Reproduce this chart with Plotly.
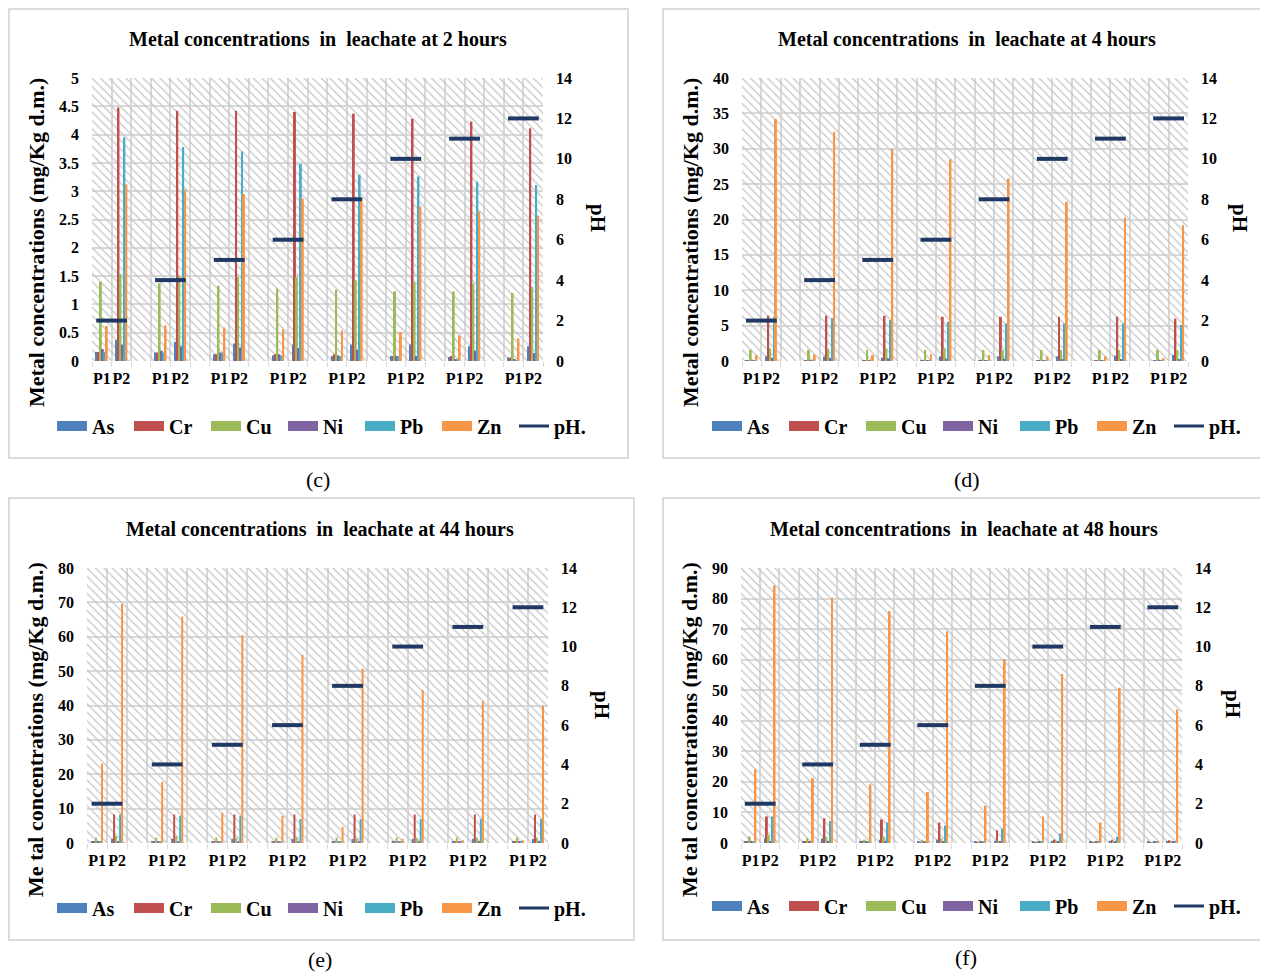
import plotly.graph_objects as go

# page body has an 8px margin: figure is drawn 8px in, so size it to fit the window
PAGE_W, PAGE_H = 1268, 978
OFF = 8
W, H = PAGE_W - OFF, PAGE_H - OFF

metals = ["As", "Cr", "Cu", "Ni", "Pb", "Zn"]
metal_colors = ["#4F81BD", "#C0504D", "#9BBB59", "#8064A2", "#4BACC6", "#F79646"]
ph_color = "#1F3864"
position_labels = ["P1", "P2"]
ph_values = [2, 4, 5, 6, 8, 10, 11, 12]

# ---- 2 hours ----
h2_As_P1 = [0.16, 0.15, 0.12, 0.10, 0.09, 0.09, 0.07, 0.06]
h2_As_P2 = [0.37, 0.34, 0.31, 0.29, 0.29, 0.29, 0.26, 0.26]
h2_Cr_P1 = [0.16, 0.15, 0.12, 0.12, 0.12, 0.09, 0.09, 0.06]
h2_Cr_P2 = [4.48, 4.42, 4.42, 4.40, 4.37, 4.28, 4.23, 4.11]
h2_Cu_P1 = [1.40, 1.37, 1.33, 1.28, 1.26, 1.23, 1.23, 1.20]
h2_Cu_P2 = [1.54, 1.50, 1.48, 1.48, 1.43, 1.39, 1.37, 1.31]
h2_Ni_P1 = [0.21, 0.18, 0.15, 0.12, 0.10, 0.09, 0.03, 0.02]
h2_Ni_P2 = [0.29, 0.26, 0.24, 0.23, 0.20, 0.09, 0.18, 0.14]
h2_Pb_P1 = [0.16, 0.15, 0.15, 0.10, 0.09, 0.09, 0.02, 0.01]
h2_Pb_P2 = [3.95, 3.78, 3.70, 3.48, 3.29, 3.26, 3.17, 3.11]
h2_Zn_P1 = [0.62, 0.63, 0.59, 0.56, 0.54, 0.51, 0.45, 0.40]
h2_Zn_P2 = [3.12, 3.03, 2.95, 2.87, 2.82, 2.73, 2.64, 2.57]

# ---- 4 hours ----
h4_As_P1 = [0.12, 0.10, 0.10, 0.10, 0.10, 0.10, 0.10, 0.10]
h4_As_P2 = [0.66, 0.62, 0.47, 0.66, 0.66, 0.66, 0.75, 0.85]
h4_Cr_P1 = [0.10, 0.10, 0.10, 0.10, 0.10, 0.10, 0.10, 0.10]
h4_Cr_P2 = [6.40, 6.40, 6.40, 6.25, 6.25, 6.25, 6.25, 6.00]
h4_Cu_P1 = [1.56, 1.56, 1.56, 1.56, 1.56, 1.56, 1.56, 1.56]
h4_Cu_P2 = [1.80, 1.75, 1.75, 1.75, 1.56, 1.56, 1.56, 1.56]
h4_Ni_P1 = [0.10, 0.10, 0.10, 0.10, 0.10, 0.10, 0.10, 0.10]
h4_Ni_P2 = [0.47, 0.45, 0.40, 0.30, 0.30, 0.25, 0.25, 0.20]
h4_Pb_P1 = [0.10, 0.10, 0.10, 0.10, 0.10, 0.10, 0.10, 0.10]
h4_Pb_P2 = [6.25, 6.06, 5.78, 5.55, 5.30, 5.30, 5.30, 5.10]
h4_Zn_P1 = [0.85, 0.90, 0.85, 0.95, 0.85, 0.66, 0.66, 0.38]
h4_Zn_P2 = [34.2, 32.4, 30.0, 28.5, 25.8, 22.5, 20.3, 19.2]

# ---- 44 hours ----
h44_As_P1 = [0.3, 0.3, 0.3, 0.3, 0.3, 0.3, 0.3, 0.3]
h44_As_P2 = [1.2, 1.2, 1.2, 1.2, 1.2, 1.2, 1.2, 1.2]
h44_Cr_P1 = [0.3, 0.3, 0.3, 0.3, 0.3, 0.3, 0.3, 0.3]
h44_Cr_P2 = [8.3, 8.3, 8.3, 8.3, 8.3, 8.3, 8.3, 8.3]
h44_Cu_P1 = [1.6, 1.6, 1.6, 1.6, 1.6, 1.6, 1.6, 1.6]
h44_Cu_P2 = [2.0, 2.0, 1.6, 1.6, 1.4, 1.4, 1.6, 1.6]
h44_Ni_P1 = [0.3, 0.3, 0.3, 0.3, 0.3, 0.3, 0.3, 0.3]
h44_Ni_P2 = [0.5, 0.5, 0.5, 0.5, 0.5, 0.5, 0.5, 0.5]
h44_Pb_P1 = [0.3, 0.3, 0.3, 0.3, 0.3, 0.3, 0.3, 0.3]
h44_Pb_P2 = [8.3, 7.9, 7.9, 7.0, 7.0, 7.0, 7.0, 7.0]
h44_Zn_P1 = [23.1, 17.8, 8.7, 7.9, 4.7, 1.2, 0.8, 0.8]
h44_Zn_P2 = [69.5, 65.9, 60.5, 54.7, 50.7, 44.5, 41.3, 40.0]

# ---- 48 hours ----
h48_As_P1 = [0.4, 0.4, 0.4, 0.4, 0.4, 0.4, 0.4, 0.4]
h48_As_P2 = [1.5, 1.5, 1.1, 1.1, 0.7, 0.7, 0.7, 0.4]
h48_Cr_P1 = [0.4, 0.4, 0.4, 0.3, 0.3, 0.3, 0.3, 0.2]
h48_Cr_P2 = [8.7, 8.1, 7.7, 6.7, 4.2, 1.1, 1.1, 0.9]
h48_Cu_P1 = [2.1, 1.5, 1.1, 1.1, 0.4, 0.4, 0.5, 0.3]
h48_Cu_P2 = [2.6, 2.1, 2.1, 1.5, 0.7, 0.7, 0.6, 0.4]
h48_Ni_P1 = [0.4, 0.4, 0.4, 0.4, 0.4, 0.4, 0.4, 0.4]
h48_Ni_P2 = [0.5, 0.5, 0.5, 0.5, 0.5, 0.5, 0.5, 0.4]
h48_Pb_P1 = [0.4, 0.4, 0.4, 0.4, 0.4, 0.4, 0.4, 0.4]
h48_Pb_P2 = [8.7, 7.2, 6.7, 5.7, 4.7, 3.1, 2.1, 0.4]
h48_Zn_P1 = [24.2, 21.2, 19.2, 16.7, 12.2, 8.7, 6.7, 0.4]
h48_Zn_P2 = [84.3, 80.3, 75.9, 69.3, 60.2, 55.3, 50.8, 43.7]

panel_titles = ["Metal concentrations  in  leachate at 2 hours",
                "Metal concentrations  in  leachate at 4 hours",
                "Metal concentrations  in  leachate at 44 hours",
                "Metal concentrations  in  leachate at 48 hours"]
panel_captions = ["(c)", "(d)", "(e)", "(f)"]
left_titles = ["Metal concentrations (mg/Kg d.m.)", "Metal concentrations (mg/Kg d.m.)",
               "Me tal concentrations (mg/Kg d.m.)", "Me tal concentrations (mg/Kg d.m.)"]
left_max = [5, 40, 80, 90]
left_step = [0.5, 5, 10, 10]
ph_max = 14
ph_step = 2

panel_data = [
    {"As": (h2_As_P1, h2_As_P2), "Cr": (h2_Cr_P1, h2_Cr_P2), "Cu": (h2_Cu_P1, h2_Cu_P2),
     "Ni": (h2_Ni_P1, h2_Ni_P2), "Pb": (h2_Pb_P1, h2_Pb_P2), "Zn": (h2_Zn_P1, h2_Zn_P2)},
    {"As": (h4_As_P1, h4_As_P2), "Cr": (h4_Cr_P1, h4_Cr_P2), "Cu": (h4_Cu_P1, h4_Cu_P2),
     "Ni": (h4_Ni_P1, h4_Ni_P2), "Pb": (h4_Pb_P1, h4_Pb_P2), "Zn": (h4_Zn_P1, h4_Zn_P2)},
    {"As": (h44_As_P1, h44_As_P2), "Cr": (h44_Cr_P1, h44_Cr_P2), "Cu": (h44_Cu_P1, h44_Cu_P2),
     "Ni": (h44_Ni_P1, h44_Ni_P2), "Pb": (h44_Pb_P1, h44_Pb_P2), "Zn": (h44_Zn_P1, h44_Zn_P2)},
    {"As": (h48_As_P1, h48_As_P2), "Cr": (h48_Cr_P1, h48_Cr_P2), "Cu": (h48_Cu_P1, h48_Cu_P2),
     "Ni": (h48_Ni_P1, h48_Ni_P2), "Pb": (h48_Pb_P1, h48_Pb_P2), "Zn": (h48_Zn_P1, h48_Zn_P2)},
]

# ---- layout geometry (page pixels) ----
plot_boxes = [(92, 543, 78, 361), (742, 1188, 78, 361), (87, 548, 568, 843), (741, 1182, 568, 843)]
borders = [(9, 9, 628, 458), (663, 9, 1262, 458), (9, 498, 634, 940), (663, 498, 1262, 940)]
title_pos = [(318, 39), (967, 39), (320, 529), (964, 529)]
caption_pos = [(318, 479), (967, 479), (320, 959), (966, 957)]
ltitle_pos = [(36, 243), (690, 243), (35, 730), (689, 730)]
rtitle_pos = [(598, 218), (1240, 218), (602, 705), (1233, 704)]
legend_pos = [(52, 426), (707, 426), (52, 908), (707, 906)]

SERIF = "Liberation Serif"
GRID = "#d9d9d9"


def fx(x):
    return (x - OFF) / W


def fy(y):
    return 1 - (y - OFF) / H


n_groups = len(ph_values)
slot = 3  # P1, P2, empty spacer
x_min = -0.5
x_max = slot * (n_groups - 1) + 1.5
bar_w = 0.1

fig = go.Figure()
layout_axes = {}
annotations = []
shapes = []

for p in range(4):
    xa = "x" if p == 0 else f"x{p + 1}"
    ya = "y" if p == 0 else f"y{p + 1}"
    yr = f"y{p + 5}"
    leg = "legend" if p == 0 else f"legend{p + 1}"

    tickvals, ticktext = [], []
    for g in range(n_groups):
        for k, lab in enumerate(position_labels):
            tickvals.append(slot * g + k)
            ticktext.append(lab)
    group_centers = [slot * g + 0.5 for g in range(n_groups)]
    boundaries = [i - 0.5 for i in range(int(x_max - x_min) + 1)]

    # hatched plot background
    fig.add_trace(go.Bar(
        x=[(x_min + x_max) / 2], y=[left_max[p]], width=[x_max - x_min], base=0,
        marker=dict(color="#c4c4c4", line_width=0,
                    pattern=dict(shape="\\", size=6, solidity=0.2, fillmode="replace")),
        showlegend=False, hoverinfo="skip", xaxis=xa, yaxis=ya))

    for mi, m in enumerate(metals):
        p1, p2 = panel_data[p][m]
        yvals = []
        for g in range(n_groups):
            yvals.extend([p1[g], p2[g]])
        fig.add_trace(go.Bar(
            x=tickvals, y=yvals, width=bar_w, offset=-3 * bar_w + mi * bar_w,
            marker=dict(color=metal_colors[mi], line_width=0),
            name=m, legendgroup=f"{p}{m}", showlegend=False, xaxis=xa, yaxis=ya))
        # legend entry drawn as a wide swatch
        fig.add_trace(go.Scatter(
            x=[None], y=[None], mode="lines", line=dict(color=metal_colors[mi], width=10),
            name=m, legendgroup=f"{p}{m}", legend=leg, hoverinfo="skip",
            xaxis=xa, yaxis=ya))

    fig.add_trace(go.Scatter(
        x=group_centers, y=ph_values, mode="markers",
        marker=dict(symbol="line-ew", size=22, line=dict(width=4, color=ph_color)),
        name="pH.", legendgroup=f"{p}pH", showlegend=False, xaxis=xa, yaxis=yr))
    fig.add_trace(go.Scatter(
        x=[None], y=[None], mode="lines", line=dict(color=ph_color, width=3),
        name="pH.", legendgroup=f"{p}pH", legend=leg, hoverinfo="skip",
        xaxis=xa, yaxis=yr))

    x0, x1, y0, y1 = plot_boxes[p]
    tick_font = dict(family=SERIF, size=16, color="black", weight="bold")
    layout_axes["xaxis" if p == 0 else f"xaxis{p + 1}"] = dict(
        domain=[fx(x0), fx(x1)], anchor=ya, range=[x_min, x_max],
        tickmode="array", tickvals=tickvals, ticktext=ticktext, tickangle=0,
        showgrid=False, zeroline=False, showline=False, ticks="",
        tickfont=tick_font, ticklabelstandoff=6,
        minor=dict(tickmode="array", tickvals=boundaries, showgrid=True,
                   gridcolor=GRID, gridwidth=2, ticks="outside", ticklen=5, tickcolor=GRID))
    layout_axes["yaxis" if p == 0 else f"yaxis{p + 1}"] = dict(
        domain=[fy(y1), fy(y0)], anchor=xa, range=[0, left_max[p]], dtick=left_step[p],
        tick0=0, showgrid=True, gridcolor=GRID, gridwidth=2, zeroline=False,
        showline=False, tickfont=tick_font, ticklabelstandoff=12)
    layout_axes[f"yaxis{p + 5}"] = dict(
        overlaying=ya, anchor=xa, side="right", range=[0, ph_max], dtick=ph_step,
        tick0=0, showgrid=False, zeroline=False, showline=False,
        tickfont=tick_font, ticklabelstandoff=12)

    layout_axes[leg] = dict(
        orientation="h", x=fx(legend_pos[p][0]), y=fy(legend_pos[p][1]),
        xanchor="left", yanchor="middle", bgcolor="rgba(0,0,0,0)",
        font=dict(family=SERIF, size=20, color="black", weight="bold"),
        entrywidth=32, itemwidth=30, tracegroupgap=0)

    bx0, by0, bx1, by1 = borders[p]
    shapes.append(dict(type="rect", xref="paper", yref="paper",
                       x0=fx(bx0), x1=fx(bx1), y0=fy(by1), y1=fy(by0),
                       line=dict(color="#d0d0d0", width=1.5), layer="below"))

    common = dict(xref="paper", yref="paper", showarrow=False, xanchor="center", yanchor="middle")
    annotations.append(dict(text=panel_titles[p], x=fx(title_pos[p][0]), y=fy(title_pos[p][1]),
                            font=dict(family=SERIF, size=20, color="black", weight="bold"), **common))
    annotations.append(dict(text=panel_captions[p], x=fx(caption_pos[p][0]), y=fy(caption_pos[p][1]),
                            font=dict(family=SERIF, size=22, color="black"), **common))
    annotations.append(dict(text=left_titles[p], x=fx(ltitle_pos[p][0]), y=fy(ltitle_pos[p][1]),
                            textangle=-90,
                            font=dict(family=SERIF, size=22, color="black", weight="bold"), **common))
    annotations.append(dict(text="pH", x=fx(rtitle_pos[p][0]), y=fy(rtitle_pos[p][1]),
                            textangle=90,
                            font=dict(family=SERIF, size=21, color="black", weight="bold"), **common))

fig.update_layout(
    width=W, height=H, margin=dict(l=0, r=0, t=0, b=0, autoexpand=False),
    paper_bgcolor="white", plot_bgcolor="white",
    barmode="overlay", showlegend=True,
    annotations=annotations, shapes=shapes,
    **layout_axes)

fig.write_html("out.html")
